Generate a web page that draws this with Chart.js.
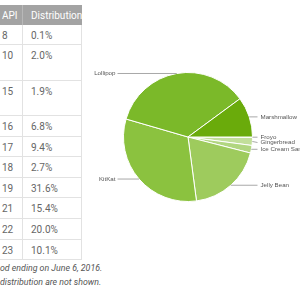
<!DOCTYPE html>
<html><head><meta charset="utf-8">
<script src="https://cdn.jsdelivr.net/npm/chart.js@4.4.1/dist/chart.umd.min.js"></script>
<style>
html,body{margin:0;padding:0;background:#fff;width:300px;height:300px;overflow:hidden;}
#wrap{position:relative;width:300px;height:300px;}
#tbl{position:absolute;left:0;top:0;}
.cell{position:absolute;box-sizing:border-box;font-family:Roboto,sans-serif;font-size:10px;line-height:13px;color:#666;padding-top:4px;white-space:nowrap;}
.hdr{background:#a3a3a3;color:#fff;}
.note{position:absolute;left:0;font-family:Roboto,sans-serif;font-style:italic;font-size:8.8px;color:#555;white-space:nowrap;}
canvas{position:absolute;left:0;top:0;}
</style></head>
<body><div id="wrap"><div id="tbl"></div><canvas id="c" width="300" height="300"></canvas></div>
<script>
// ---- data ----
const apiLevels = ['8','10','15','16','17','18','19','21','22','23'];
const distribution = ['0.1%','2.0%','1.9%','6.8%','9.4%','2.7%','31.6%','15.4%','20.0%','10.1%'];
const headers = ['API','Distribution'];
const notes = ['od ending on June 6, 2016.','distribution are not shown.'];
const pieLabels = ['Froyo','Gingerbread','Ice Cream Sandwich','Jelly Bean','KitKat','Lollipop','Marshmallow'];
const pieValues = [0.1, 2.0, 1.9, 18.9, 31.6, 35.4, 10.1];

// ---- table layout ----
const rowEdges = [25,45,81,116,137,157,178,198,219,240,260];
const colX = [-6,22,82];
const tbl = document.getElementById('tbl');
function cell(x,y,w,h,txt,cls,pl){
  const d=document.createElement('div');d.className='cell '+(cls||'');
  d.style.left=x+'px';d.style.top=y+'px';d.style.width=w+'px';d.style.height=h+'px';
  d.style.paddingLeft=pl+'px';d.textContent=txt;tbl.appendChild(d);return d;
}
let h1=cell(colX[0],5,colX[1]-colX[0],20,headers[0],'hdr',8);
let h2=cell(colX[1],5,colX[2]-colX[1],20,headers[1],'hdr',8);h2.style.borderLeft='1px solid #b8b8b8';
for(let i=0;i<apiLevels.length;i++){
  const y=rowEdges[i],h=rowEdges[i+1]-rowEdges[i];
  const a=cell(colX[0],y,colX[1]-colX[0],h,apiLevels[i],'',8);
  a.style.borderBottom='1px solid #e2e2e2';
  const b=cell(colX[1],y,colX[2]-colX[1],h,distribution[i],'',8);
  b.style.borderBottom='1px solid #e2e2e2';b.style.borderLeft='1px solid #e2e2e2';b.style.borderRight='1px solid #e2e2e2';
}
notes.forEach((t,i)=>{const d=document.createElement('div');d.className='note';d.style.top=(263+i*14)+'px';d.textContent=t;tbl.appendChild(d);});

// ---- pie ----
const colors = ['#d3e8b4','#c2df9a','#b1d680','#9ecb5d','#8bc23f','#7bb929','#6aab0b'];
const labelPlugin = {
  id:'leaders',
  afterDatasetsDraw(chart){
    const ctx=chart.ctx, meta=chart.getDatasetMeta(0);
    const items=[];
    meta.data.forEach((arc,i)=>{
      const p=arc.getProps(['x','y','startAngle','endAngle','outerRadius'],true);
      const mid=(p.startAngle+p.endAngle)/2;
      const ex=p.x+Math.cos(mid)*p.outerRadius, ey=p.y+Math.sin(mid)*p.outerRadius;
      items.push({i,ex,ey,right:Math.cos(mid)>=0,cx:p.x,r:p.outerRadius,ly:ey});
    });
    const right=items.filter(o=>o.right).sort((a,b)=>a.ey-b.ey);
    for(let k=1;k<right.length;k++){ if(right[k].ly<right[k-1].ly+5.3) right[k].ly=right[k-1].ly+5.3; }
    ctx.save();
    ctx.font='6.2px "Liberation Sans", Arial, sans-serif';
    ctx.textBaseline='middle';
    items.forEach(o=>{
      ctx.strokeStyle='#a8a8a8';ctx.lineWidth=1;ctx.beginPath();
      if(o.right){
        const lx=o.cx+o.r+5;
        ctx.moveTo(o.ex,o.ey);ctx.lineTo(lx,o.ly);ctx.stroke();
        ctx.fillStyle='#555';ctx.textAlign='left';ctx.fillText(pieLabels[o.i],lx+3,o.ly);
      } else {
        const lx=o.cx-o.r-6;
        ctx.moveTo(o.ex,o.ey);ctx.lineTo(lx,o.ly);ctx.stroke();
        ctx.fillStyle='#555';ctx.textAlign='right';ctx.fillText(pieLabels[o.i],lx-2,o.ly);
      }
    });
    ctx.restore();
  }
};
new Chart(document.getElementById('c'),{
  type:'pie',
  data:{labels:pieLabels,datasets:[{data:pieValues,backgroundColor:colors,borderColor:'#ffffff',borderWidth:1}]},
  options:{
    responsive:false,animation:false,rotation:90,
    layout:{padding:{left:123,right:47,top:72,bottom:98}},
    plugins:{legend:{display:false},tooltip:{enabled:false}}
  },
  plugins:[labelPlugin]
});
</script></body></html>
